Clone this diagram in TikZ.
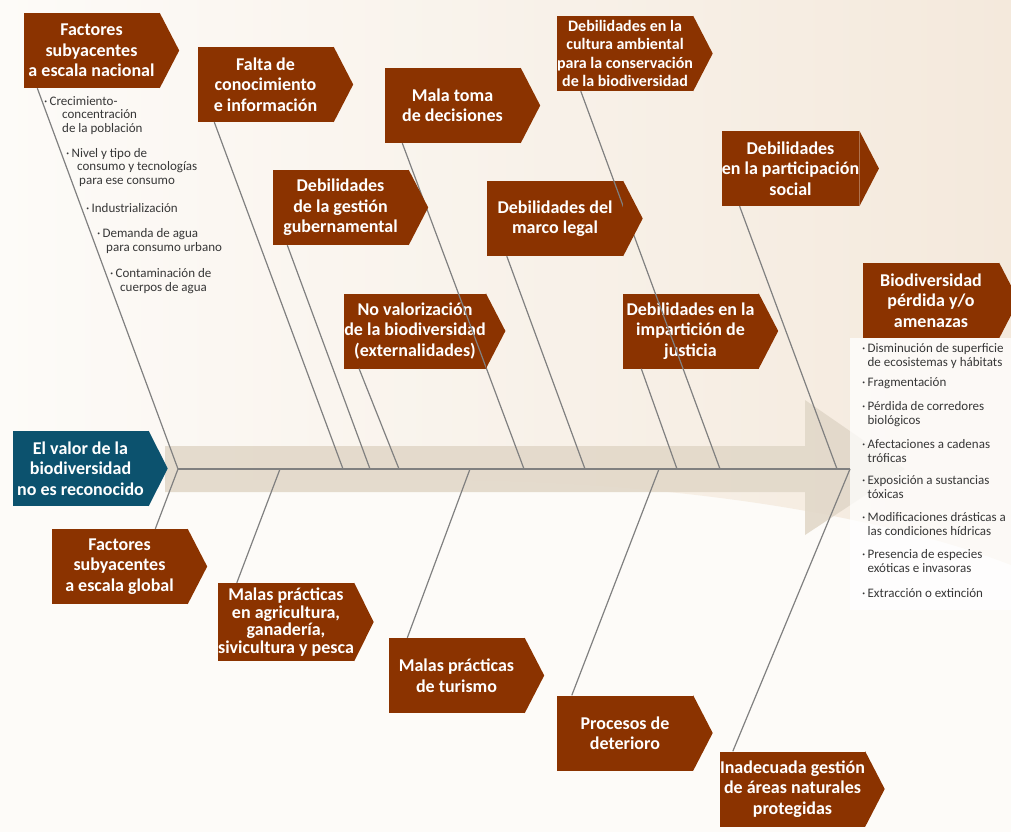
\documentclass[tikz,border=0pt]{standalone}
\usepackage{fontspec}
\setmainfont{Carlito}
\usetikzlibrary{positioning}
\tikzset{every node/.append style={align=center}}
\definecolor{brn}{RGB}{139,51,0}
\definecolor{tealbox}{RGB}{12,82,110}
\definecolor{bonegray}{RGB}{128,128,128}
\definecolor{bandcol}{RGB}{226,216,201}
\definecolor{txtgray}{RGB}{55,55,55}
\definecolor{bgpale}{RGB}{253,251,248}
\definecolor{bgbeige}{RGB}{244,233,220}

\tikzset{
  causebox/.style={rectangle, fill=brn, text=white, inner sep=0pt,
                   minimum width=136pt, minimum height=75pt,
                   font=\bfseries\fontsize{18}{20.5}\selectfont},
  tightbox/.style={causebox, font=\bfseries\fontsize{18}{17.8}\selectfont,
                   minimum height=78pt},
  smallbox/.style={causebox, font=\bfseries\fontsize{16}{18.3}\selectfont},
  headbox/.style={causebox, fill=tealbox},
  bone/.style={draw=bonegray, line width=1.2pt},
  itemtxt/.style={font=\fontsize{13}{13.3}\selectfont, text=txtgray,
                  align=left, anchor=base west, inner sep=0pt}
}

\begin{document}
\begin{tikzpicture}[x=1pt,y=-1pt]
\useasboundingbox (0,0) rectangle (1011,832);
\clip (0,0) rectangle (1011,832);

% ── Background ────────────────────────────────────────────────────────────────
\fill[bgpale] (0,0) rectangle (1011,832);
\shade[left color=bgpale, right color=bgbeige]
      (0,0) -- (1011,0) -- (1011,565)
      .. controls (900,522) and (700,480) .. (420,480) -- (0,480) -- cycle;

% ── Spine band with arrow head ────────────────────────────────────────────────
\fill[bandcol, opacity=0.9]
      (165,446) -- (805,446) -- (805,400) -- (905,469) -- (805,535)
      -- (805,492) -- (165,492) -- cycle;

% White panel for the effect list
\fill[white, opacity=0.75] (850,338) rectangle (1011,610);

% ── Boxes ─────────────────────────────────────────────────────────────────────
\node[headbox] (head) at (80.5,468.5)
      {El valor de la\\biodiversidad\\no es reconocido};

\foreach \nm/\st/\px/\py/\txt in {
  b1/causebox/91.5/50.5/{Factores\\subyacentes\\a escala nacional},
  b2/causebox/265.5/84.5/{Falta de\\conocimiento\\e información},
  b3/causebox/452.5/105.5/{Mala toma\\de decisiones},
  b4/smallbox/625/53.5/{Debilidades en la\\cultura ambiental\\para la conservación\\de la biodiversidad},
  b5/causebox/790.5/168.5/{Debilidades\\en la participación\\social},
  b6/causebox/340.5/207.5/{Debilidades\\de la gestión\\gubernamental},
  b7/causebox/555/218.5/{Debilidades del\\marco legal},
  b8/causebox/415/331/{No valorización\\de la biodiversidad\\(externalidades)},
  b9/causebox/690.5/331/{Debilidades en la\\impartición de\\justicia},
  b10/causebox/931/300.5/{Biodiversidad\\pérdida y/o\\amenazas},
  b11/causebox/119.5/566.5/{Factores\\subyacentes\\a escala global},
  b12/tightbox/286/622/{Malas prácticas\\en agricultura,\\ganadería,\\sivicultura y pesca},
  b13/causebox/456.5/675.5/{Malas prácticas\\de turismo},
  b14/causebox/625/733/{Procesos de\\deterioro},
  b15/causebox/792.5/789/{Inadecuada gestión\\de áreas naturales\\protegidas}}
{
  \node[\st] (\nm) at (\px,\py) {\txt};
}

% ── Spine and bones ───────────────────────────────────────────────────────────
\coordinate (tail) at (178,469);
\coordinate (tip)  at (850,469);
\foreach \nm/\jx in {j2/343, j3/370, j4/399, j5/524, j6/585, j7/677,
                      j8/720, j9/837, k2/280, k3/470, k4/659}
  \coordinate (\nm) at (\jx,469);

\draw[bone] (tail) -- (tip);

% upper bones: box, shift of the foot along the lower edge, joint
\foreach \bx/\sh/\jn in {b1/14/tail, b2/17/j2, b6/15/j3, b8/15/j4, b3/18/j5,
                         b7/20/j6, b9/19/j7, b4/24/j8, b5/18/j9}
  \draw[bone] ([xshift=\sh pt]\bx.south west) -- (\jn);

% lower bones
\foreach \bx/\sh/\jn in {b11/104/tail, b12/19/k2, b13/19/k3, b14/15/k4, b15/13/tip}
  \draw[bone] (\jn) -- ([xshift=\sh pt]\bx.north west);

% Box pointers
\foreach \nm in {b1,b2,b3,b4,b5,b6,b7,b8,b9,b10,b11,b12,b13,b14,b15}
  \fill[brn] (\nm.north east) -- ([xshift=19.5pt]\nm.east) -- (\nm.south east) -- cycle;
\fill[tealbox] (head.north east) -- ([xshift=19pt]head.east) -- (head.south east) -- cycle;

% ── National factors list (y = baseline of the last line) ─────────────────────
\node[itemtxt] (n1) at (44,132)
      {·\,Crecimiento-\\\hspace*{18pt}concentración\\\hspace*{18pt}de la población};
\node[itemtxt] (n2) at (66,184)
      {·\,Nivel y tipo de\\\hspace*{11pt}consumo y tecnologías\\\hspace*{13pt}para ese consumo};
\node[itemtxt] (n3) at (86,212) {·\,Industrialización};
\node[itemtxt] (n4) at (97,251)
      {·\,Demanda de agua\\\hspace*{9pt}para consumo urbano};
\node[itemtxt] (n5) at (110,291)
      {·\,Contaminación de\\\hspace*{10pt}cuerpos de agua};

% ── Effects list ──────────────────────────────────────────────────────────────
\foreach \nm/\py/\txt in {
  e1/366/{Disminución de superficie\\\hphantom{·\,}de ecosistemas y hábitats},
  e2/386/{Fragmentación},
  e3/424/{Pérdida de corredores\\\hphantom{·\,}biológicos},
  e4/462/{Afectaciones a cadenas\\\hphantom{·\,}tróficas},
  e5/498/{Exposición a sustancias\\\hphantom{·\,}tóxicas},
  e6/535/{Modificaciones drásticas a\\\hphantom{·\,}las condiciones hídricas},
  e7/572/{Presencia de especies\\\hphantom{·\,}exóticas e invasoras},
  e8/597/{Extracción o extinción}}
{
  \node[itemtxt] (\nm) at (862,\py) {·\,\txt};
}

\end{tikzpicture}
\end{document}
